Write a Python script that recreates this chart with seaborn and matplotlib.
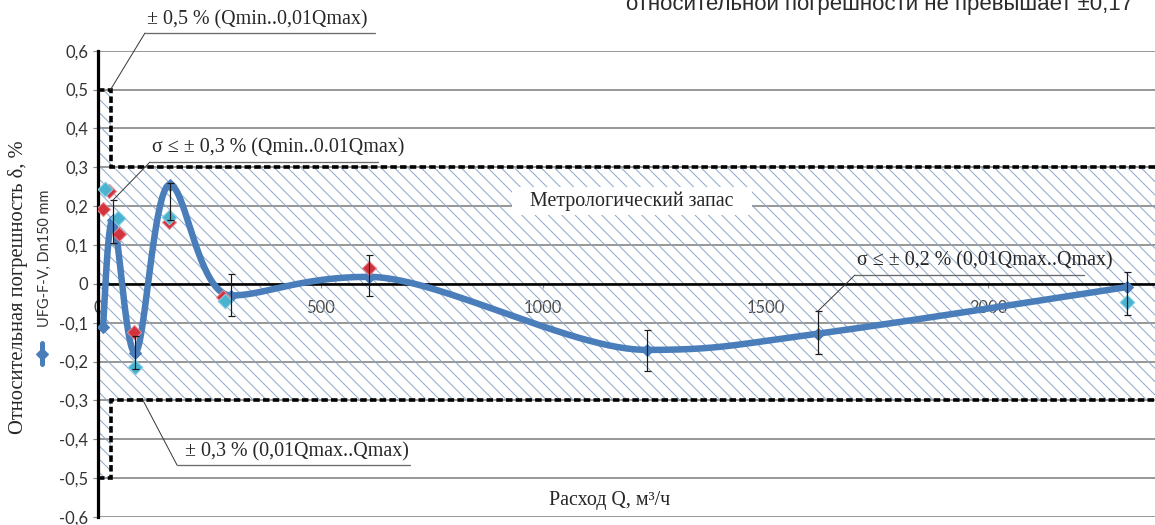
import numpy as np
import matplotlib
matplotlib.use("Agg")
import matplotlib.pyplot as plt
import seaborn as sns
from matplotlib.lines import Line2D
from matplotlib.patches import Rectangle

# ---- data -------------------------------------------------------------
# mean relative error of the meter vs. flow rate
flow_mean = [11, 33, 83, 161, 299, 608, 1232, 1617, 2312]
err_mean = [-0.11, 0.165, -0.178, 0.255, -0.03, 0.018, -0.17, -0.128, -0.008]

# spread (top / bottom ends of the bars) around the mean points
bar_flow = [33, 83, 161, 299, 608, 1232, 1617, 2312]
bar_top = [0.215, -0.135, 0.26, 0.026, 0.075, -0.12, -0.07, 0.03]
bar_bottom = [0.105, -0.22, 0.165, -0.083, -0.03, -0.225, -0.18, -0.08]

# individual calibration runs
run_a_flow = [16, 45, 83, 159, 285, 2312]
run_a_err = [0.245, 0.17, -0.213, 0.172, -0.045, -0.047]
run_b_flow = [11, 24, 47, 81, 159, 281, 608]
run_b_err = [0.193, 0.238, 0.128, -0.123, 0.16, -0.033, 0.04]

# permissible error limits
limit_low_range = 0.5     # Qmin .. 0.01Qmax
limit_main = 0.3          # 0.01Qmax .. Qmax
q_split = 28
q_end = 2374

y_ticks = [-0.6, -0.5, -0.4, -0.3, -0.2, -0.1, 0.0, 0.1, 0.2, 0.3, 0.4, 0.5, 0.6]
y_tick_labels = ["-0,6", "-0,5", "-0,4", "-0,3", "-0,2", "-0,1", "0",
                 "0,1", "0,2", "0,3", "0,4", "0,5", "0,6"]
x_ticks = [0, 500, 1000, 1500, 2000]
x_tick_labels = ["0", "500", "1000", "1500", "2000"]

series_label = "UFG-F-V, Dn150 mm"
y_title = "Относительная погрешность δ, %"
x_title = "Расход Q, м³/ч"
top_note = "относительной погрешности не превышает ±0,17"
note_05 = "± 0,5 % (Qmin..0,01Qmax)"
note_s03 = "σ ≤ ± 0,3 % (Qmin..0.01Qmax)"
note_s02 = "σ ≤ ± 0,2 % (0,01Qmax..Qmax)"
note_03 = "± 0,3 % (0,01Qmax..Qmax)"
note_reserve = "Метрологический запас"

# ---- style ------------------------------------------------------------
W, H, DPI = 1155, 525, 80
PT = 72.0 / DPI           # points per pixel

sns.set_theme(style="white")
plt.rcParams["font.family"] = ["Lato", "DejaVu Sans"]
plt.rcParams["hatch.linewidth"] = 1.0 * PT
SERIF = ["Liberation Serif", "DejaVu Serif"]

BLUE = "#4a7ebb"
CYAN = "#4bb3cf"
RED = "#d2343f"
HATCH = "#8ea9c9"
GRID = "#8e8e8e"
TICK_TXT = "#333333"
TXT = "#262626"


def smooth_curve(xs, ys, n=60):
    """Bezier smoothing through the points; flat tangents at local extrema."""
    pts = np.column_stack([xs, ys]).astype(float)
    k = len(pts)
    tang = np.zeros_like(pts)
    for i in range(k):
        a = pts[max(i - 1, 0)]
        b = pts[min(i + 1, k - 1)]
        tang[i] = (b - a) / 6.0
        if 0 < i < k - 1:
            d0 = pts[i, 1] - pts[i - 1, 1]
            d1 = pts[i + 1, 1] - pts[i, 1]
            if d0 * d1 < 0:
                tang[i, 1] = 0.0
    t = np.linspace(0, 1, n)[:, None]
    segs = []
    for i in range(k - 1):
        p1, p2 = pts[i], pts[i + 1]
        c1 = p1 + tang[i]
        c2 = p2 - tang[i + 1]
        seg = ((1 - t) ** 3) * p1 + 3 * ((1 - t) ** 2) * t * c1 \
            + 3 * (1 - t) * (t ** 2) * c2 + (t ** 3) * p2
        segs.append(seg if i == 0 else seg[1:])
    return np.vstack(segs)


def fpx(x, y):
    """figure pixel position (from top-left) -> figure fraction"""
    return (x / W, 1 - y / H)


fig = plt.figure(figsize=(W / DPI, H / DPI), dpi=DPI, facecolor="white")
left_px, top_px, bottom_px = 98.1, 50.7, 517.0
ax = fig.add_axes([left_px / W, (H - bottom_px) / H,
                   (W - left_px) / W, (bottom_px - top_px) / H])
ax.set_facecolor("white")
ax.set_axisbelow(True)

# hatched tolerance zones
ax.fill_between([0, q_end], -limit_main, limit_main, facecolor="none",
                edgecolor=HATCH, hatch="\\\\", linewidth=0, zorder=1)
ax.fill_between([0, q_split], limit_main, limit_low_range, facecolor="none",
                edgecolor=HATCH, hatch="\\\\", linewidth=0, zorder=1)
ax.fill_between([0, q_split], -limit_low_range, -limit_main, facecolor="none",
                edgecolor=HATCH, hatch="\\\\", linewidth=0, zorder=1)

# dashed limit outline
for s in (1, -1):
    ax.plot([0, q_split, q_split, q_end],
            [s * limit_low_range, s * limit_low_range, s * limit_main, s * limit_main],
            color="black", lw=3.6 * PT, ls=(0, (1.8, 0.9)), zorder=1.8,
            dash_capstyle="butt", dash_joinstyle="miter")

# smoothed mean curve
curve = smooth_curve(flow_mean, err_mean)
sns.lineplot(x=curve[:, 0], y=curve[:, 1], color=BLUE, lw=6.5 * PT, sort=False,
             estimator=None, ax=ax, zorder=2)
sns.scatterplot(x=flow_mean, y=err_mean, marker="D", s=(9.5 * PT) ** 2,
                color=BLUE, edgecolor=BLUE, linewidth=0, ax=ax, zorder=2.1)

# individual runs
sns.scatterplot(x=run_b_flow, y=run_b_err, marker="D", s=(10 * PT) ** 2,
                color=RED, edgecolor="#e88a96", linewidth=1 * PT, ax=ax, zorder=2.2)
sns.scatterplot(x=run_a_flow, y=run_a_err, marker="D", s=(10.5 * PT) ** 2,
                color=CYAN, edgecolor="#8fd3e6", linewidth=1 * PT, ax=ax, zorder=2.3)

# spread bars
bf = np.array(bar_flow, float)
bt = np.array(bar_top, float)
bb = np.array(bar_bottom, float)
mid = (bt + bb) / 2
ax.errorbar(bf, mid, yerr=[mid - bb, bt - mid], fmt="none", ecolor="#1a1a1a",
            elinewidth=1.2 * PT, capsize=3.5 * PT, capthick=1.2 * PT, zorder=3)

# axes
ax.set_xlim(0, q_end)
ax.set_ylim(-0.6, 0.6)
ax.set_yticks(y_ticks)
ax.set_yticklabels(y_tick_labels)
ax.set_xticks(x_ticks)
ax.set_xticklabels(x_tick_labels)
ax.yaxis.grid(True, color=GRID, lw=1.8 * PT)
ax.xaxis.grid(False)
ax.spines["top"].set_visible(False)
ax.spines["right"].set_visible(False)
ax.spines["bottom"].set_position(("data", 0))
ax.spines["bottom"].set_color("black")
ax.spines["bottom"].set_linewidth(2.6 * PT)
ax.spines["bottom"].set_zorder(1.5)
ax.spines["left"].set_color("black")
ax.spines["left"].set_linewidth(3.2 * PT)
ax.spines["left"].set_zorder(1.5)
ax.tick_params(axis="y", which="both", left=True, length=5 * PT, width=1.2 * PT,
               color=GRID, pad=5 * PT, labelsize=16.5 * PT, labelcolor=TICK_TXT)
ax.tick_params(axis="x", which="both", bottom=True, length=4 * PT, width=1.2 * PT,
               color=GRID, pad=12 * PT, labelsize=16.5 * PT, labelcolor="#4a4a4a")
ax.set_xlabel("")
ax.set_ylabel("")

# axis titles
fig.text(*fpx(18, 287), y_title, rotation=90, ha="center", va="center",
         family=SERIF, fontsize=20.5 * PT, color=TXT)
fig.text(*fpx(610, 500), x_title, ha="center", va="center",
         family=SERIF, fontsize=20 * PT, color=TXT)

# rotated legend
fig.add_artist(Line2D([42 / W, 42 / W], [1 - 343 / H, 1 - 364 / H],
                      color=BLUE, lw=5 * PT, transform=fig.transFigure))
fig.add_artist(Line2D([42 / W], [1 - 353.5 / H], marker="D", ms=9 * PT,
                      color=BLUE, lw=0, transform=fig.transFigure))
fig.text(*fpx(45, 258), series_label, rotation=90, ha="center", va="center",
         fontsize=14.5 * PT, color="#333333")

# heading text running off the top edge
fig.text(*fpx(1133, 10), top_note, ha="right", va="baseline",
         family=["Liberation Sans", "DejaVu Sans"], fontsize=22.3 * PT, color="#2b2b2b")

# callouts: text, underline and leader line to the marked point
LEAD = "#3a3a3a"


def callout(text, tx, ty, ul_x0, ul_x1, ul_y, target):
    fig.text(*fpx(tx, ty), text, ha="left", va="center", family=SERIF,
             fontsize=20 * PT, color=TXT)
    fig.add_artist(Line2D([ul_x0 / W, ul_x1 / W], [1 - ul_y / H, 1 - ul_y / H],
                          color="#6a6a6a", lw=1.3 * PT, transform=fig.transFigure))
    ax.annotate("", xy=target, xycoords="data", xytext=fpx(ul_x0, ul_y),
                textcoords="figure fraction", annotation_clip=False,
                arrowprops=dict(arrowstyle="-", color=LEAD, lw=1.0 * PT,
                                shrinkA=0, shrinkB=0))


callout(note_05, 147, 20, 145, 375, 33, (q_split, limit_low_range))
callout(note_s03, 152, 148, 150, 378, 162, (bar_flow[0], bar_top[0]))
callout(note_s02, 857, 261, 855, 1084, 275, (bar_flow[6], bar_top[6]))
callout(note_03, 185, 452, 177, 410, 465, (101, -limit_main))

# label of the hatched zone on a white plate
fig.add_artist(Rectangle(fpx(512, 215), 240 / W, 28 / H, transform=fig.transFigure,
                         facecolor="white", edgecolor="none", zorder=2.9))
fig.text(*fpx(632, 201), note_reserve, ha="center", va="center", family=SERIF,
         fontsize=20 * PT, color=TXT, zorder=3)

fig.savefig("out.png", dpi=DPI, facecolor="white")
